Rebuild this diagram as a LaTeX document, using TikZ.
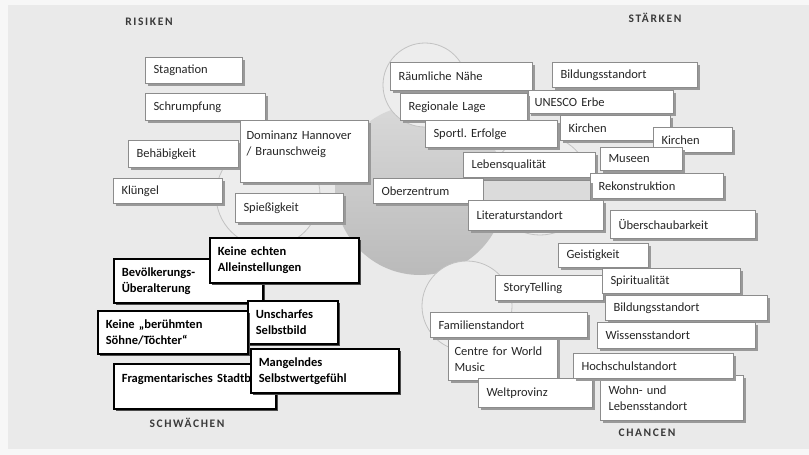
\documentclass[tikz,border=0pt]{standalone}
\usepackage{fontspec}
\setmainfont{Carlito}
\newfontfamily\headfont[LetterSpace=14]{Carlito}
\usetikzlibrary{shadows}
\definecolor{panel}{HTML}{EAEAEA}
\definecolor{outer}{HTML}{F7F7F7}
\definecolor{ink}{HTML}{262626}
\definecolor{head}{HTML}{3A3A3A}
\definecolor{rim}{HTML}{8C8C8C}
\definecolor{petalrim}{HTML}{C2C2C2}
\definecolor{petalfill}{HTML}{EDEDED}
\frenchspacing
\tikzset{
  boxbase/.style={anchor=north west, fill=white, inner xsep=8pt, inner ysep=2pt, align=left},
  card/.style={boxbase, draw=rim, line width=1pt, text=ink, font=\fontsize{12.5}{16}\selectfont,
    drop shadow={shadow xshift=2.5pt, shadow yshift=-2.5pt, fill=black!40, opacity=1}},
  weakcard/.style={boxbase, draw=black, line width=1.6pt, text=black, font=\fontsize{12.5}{16}\selectfont\bfseries,
    drop shadow={shadow xshift=2pt, shadow yshift=-2pt, fill=black!70, opacity=1}},
  headlab/.style={text=head, font=\headfont\bfseries\fontsize{11.5}{13}\selectfont},
  petal/.style={draw=petalrim, line width=0.8pt, fill=petalfill},
  core/.style={draw=none, shade, shading angle=30, top color=black!15, bottom color=black!27},
}
\begin{document}
\begin{tikzpicture}[x=1pt, y=-1pt]
  \useasboundingbox (0,0) rectangle (809,455);
  \fill[outer] (0,0) rectangle (809,455);
  \fill[panel] (8,5) rectangle (809,449);

  % circles in the middle
  \path[core] (420,190) circle (85pt);
  \draw[petal] (425,85) circle (42pt);
  \draw[petal] (540,185) circle (50pt);
  \draw[petal] (467,306) circle (45pt);
  \draw[petal] (268,195) circle (52pt);

  % headings
  \node[headlab] (risk) at (149,22) {RISIKEN};
  \node[headlab] (strength) at (655,18) {STÄRKEN};
  \node[headlab] (weak) at (187,423) {SCHWÄCHEN};
  \node[headlab] (chance) at (647,433) {CHANCEN};

  % risiken
  \node[card, text width=81pt, minimum height=26pt] (stag) at (145,57) {Stagnation};
  \node[card, text width=104pt, minimum height=27pt] (schrumpf) at (145,93) {Schrumpfung};
  \node[card, text width=94pt, minimum height=27pt] (behaeb) at (128,140) {Behäbigkeit};
  \node[card, inner xsep=6pt, text width=116pt, minimum height=62pt] (domin) at (240,120) {Dominanz Hannover\\/ Braunschweig\\\mbox{}};
  \node[card, text width=93pt, minimum height=25pt] (kluengel) at (113,178) {Klüngel};
  \node[card, text width=92pt, minimum height=29pt] (spiess) at (235,193) {Spießigkeit};

  % staerken
  \node[card, text width=126pt, minimum height=28pt] (naehe) at (390,62) {Räumliche Nähe};
  \node[card, text width=129pt, minimum height=25pt] (bildA) at (552,62) {Bildungsstandort};
  \node[card, inner xsep=6pt, text width=133pt, minimum height=23pt] (unesco) at (528,90) {UNESCO Erbe};
  \node[card, text width=111pt, minimum height=27pt] (regio) at (400,93) {Regionale Lage};
  \node[card, text width=94pt, minimum height=25pt] (kirchA) at (560,115) {Kirchen};
  \node[card, text width=116pt, minimum height=27pt] (sport) at (425,120) {Sportl. Erfolge};
  \node[card, text width=63pt, minimum height=25pt] (kirchB) at (653,127) {Kirchen};
  \node[card, text width=116pt, minimum height=25pt] (lebens) at (463,152) {Lebensqualität};
  \node[card, text width=66pt, minimum height=23pt] (museen) at (600,147) {Museen};
  \node[card, text width=117pt, minimum height=25pt] (rekon) at (590,173) {Rekonstruktion};
  \node[card, text width=94pt, minimum height=25pt] (oberz) at (373,178) {Oberzentrum};
  \node[card, fill=black!14, text width=91pt, minimum height=20pt] (blank) at (483,180) {};
  \node[card, text width=119pt, minimum height=30pt] (litera) at (468,200) {Literaturstandort};
  \node[card, text width=129pt, minimum height=28pt] (ueber) at (610,210) {Überschaubarkeit};

  % chancen
  \node[card, text width=74pt, minimum height=24pt] (geist) at (558,243) {Geistigkeit};
  \node[card, text width=92pt, minimum height=25pt] (story) at (495,275) {StoryTelling};
  \node[card, text width=122pt, minimum height=25pt] (spirit) at (602,268) {Spiritualität};
  \node[card, text width=146pt, minimum height=25pt] (bildB) at (605,295) {Bildungsstandort};
  \node[card, inner xsep=6pt, text width=97pt, minimum height=43pt] (centre) at (448,337) {Centre for World\\Music};
  \node[card, text width=141pt, minimum height=25pt] (famil) at (430,312) {Familienstandort};
  \node[card, text width=142pt, minimum height=26pt] (wissen) at (597,322) {Wissensstandort};
  \node[card, text width=98pt, minimum height=29pt] (welt) at (478,378) {Weltprovinz};
  \node[card, text width=127pt, minimum height=45pt] (wohn) at (600,375) {Wohn- und\\Lebensstandort};
  \node[card, text width=144pt, minimum height=25pt] (hochsch) at (573,353) {Hochschulstandort};

  % schwaechen
  \node[weakcard, text width=133pt, minimum height=44pt] (bevoelk) at (113,258) {Bevölkerungs-\\Überalterung};
  \node[weakcard, text width=133pt, minimum height=45pt] (allein) at (209,237) {Keine echten\\Alleinstellungen};
  \node[weakcard, text width=74pt, minimum height=43pt] (unscharf) at (247,300) {Unscharfes\\Selbstbild};
  \node[weakcard, text width=134pt, minimum height=43pt] (soehne) at (97,310) {Keine „berühmten\\Söhne/Töchter“};
  \node[weakcard, text width=146pt, minimum height=45pt] (fragment) at (113,363) {\mbox{Fragmentarisches Stadtbild}\\\mbox{}};
  \node[weakcard, text width=132pt, minimum height=44pt] (selbstw) at (250,348) {Mangelndes\\Selbstwertgefühl};
\end{tikzpicture}
\end{document}
